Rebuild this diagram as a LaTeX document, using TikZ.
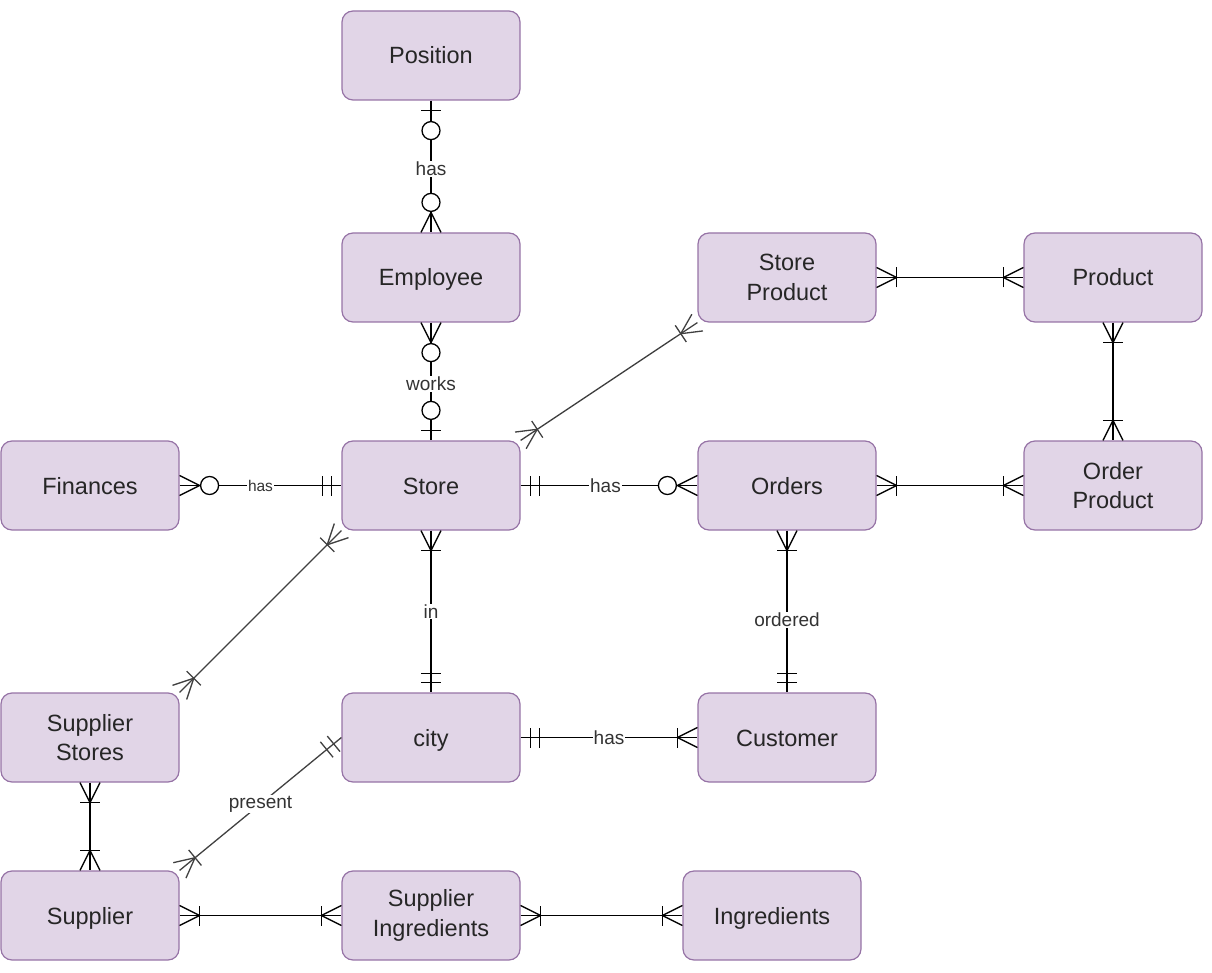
\documentclass[tikz,border=0pt]{standalone}
\usepackage{fontspec}
\setmainfont{Liberation Sans}
\usetikzlibrary{decorations.markings}
\definecolor{boxfill}{HTML}{E1D5E7}
\definecolor{boxline}{HTML}{9673A6}
\definecolor{lbltext}{HTML}{333333}
\tikzset{
  ent/.style={draw=boxline, fill=boxfill, line width=1.2pt, rounded corners=11pt,
    minimum width=178pt, minimum height=89pt, inner sep=0pt, align=center,
    font=\fontsize{23.5}{29.5}\selectfont, text=black!85},
  oneline/.style={text height=17pt, text depth=0pt},
  rel/.style={draw=black, line width=1.3pt},
  diag/.style={color=black!75},
  lbl/.style={fill=white, inner sep=1pt, font=\fontsize{19}{22}\selectfont, text=lbltext},
  sbar/.style={postaction={decorate,decoration={markings,mark=at position #1 with {\draw[line width=1.3pt] (0pt,-10pt)--(0pt,10pt);}}}},
  ebar/.style={postaction={decorate,decoration={markings,mark=at position -#1 with {\draw[line width=1.3pt] (0pt,-10pt)--(0pt,10pt);}}}},
  scrow/.style={postaction={decorate,decoration={markings,mark=at position 20pt with {\draw[line width=1.3pt] (-20pt,-10pt)--(0pt,0pt)--(-20pt,10pt);}}}},
  ecrow/.style={postaction={decorate,decoration={markings,mark=at position -20pt with {\draw[line width=1.3pt] (20pt,-10pt)--(0pt,0pt)--(20pt,10pt);}}}},
  scirc/.style={postaction={decorate,decoration={markings,mark=at position 30pt with {\draw[line width=1.3pt,fill=white] (0pt,0pt) circle (9pt);}}}},
  ecirc/.style={postaction={decorate,decoration={markings,mark=at position -30pt with {\draw[line width=1.3pt,fill=white] (0pt,0pt) circle (9pt);}}}},
  s zone/.style={sbar=10pt, scirc},
  e zone/.style={ebar=10pt, ecirc},
  s zmany/.style={scrow, scirc},
  e zmany/.style={ecrow, ecirc},
  s onemany/.style={scrow, sbar=20pt},
  e onemany/.style={ecrow, ebar=20pt},
  s mand/.style={sbar=10pt, sbar=19pt},
  e mand/.style={ebar=10pt, ebar=19pt}
}
\begin{document}
\begin{tikzpicture}[x=1pt,y=-1pt]
\useasboundingbox (0,0) rectangle (1212,973);
\node[ent, oneline] (position) at (431,55.5) {Position};
\node[ent, oneline] (employee) at (431,277.5) {Employee};
\node[ent] (storeproduct) at (787,277.5) {Store\\Product};
\node[ent, oneline] (product) at (1113,277.5) {Product};
\node[ent, oneline] (finances) at (90,485.5) {Finances};
\node[ent, oneline] (store) at (431,485.5) {Store};
\node[ent, oneline] (orders) at (787,485.5) {Orders};
\node[ent] (orderproduct) at (1113,485.5) {Order\\Product};
\node[ent] (supplierstores) at (90,737.5) {Supplier\\Stores};
\node[ent, oneline] (city) at (431,737.5) {city};
\node[ent, oneline] (customer) at (787,737.5) {Customer};
\node[ent, oneline] (supplier) at (90,915.5) {Supplier};
\node[ent] (supplieringredients) at (431,915.5) {Supplier\\Ingredients};
\node[ent, oneline] (ingredients) at (772,915.5) {Ingredients};

\draw[rel, s zone, e zmany] (position) -- node[lbl, pos=0.52]{has} (employee);
\draw[rel, s zmany, e zone] (employee) -- node[lbl, pos=0.52]{works} (store);
\draw[rel, s zmany, e mand] (finances) -- node[lbl, font=\fontsize{15.5}{18}\selectfont]{has} (store);
\draw[rel, s mand, e zmany] (store) -- node[lbl, pos=0.48]{has} (orders);
\draw[rel, s onemany, e onemany] (storeproduct) -- (product);
\draw[rel, s onemany, e onemany] (orders) -- (orderproduct);
\draw[rel, s onemany, e onemany] (product) -- (orderproduct);
\draw[rel, diag, s onemany, e onemany] (store.north east) -- (storeproduct.south west);
\draw[rel, diag, s onemany, e onemany] (store.south west) -- (supplierstores.north east);
\draw[rel, s onemany, e mand] (store) -- node[lbl]{in} (city);
\draw[rel, s onemany, e mand] (orders) -- node[lbl, pos=0.55]{ordered} (customer);
\draw[rel, s mand, e onemany] (city) -- node[lbl]{has} (customer);
\draw[rel, diag, s onemany, e mand] (supplier.north east) -- node[lbl]{present} (city.west);
\draw[rel, s onemany, e onemany] (supplierstores) -- (supplier);
\draw[rel, s onemany, e onemany] (supplier) -- (supplieringredients);
\draw[rel, s onemany, e onemany] (supplieringredients) -- (ingredients);
\end{tikzpicture}
\end{document}
